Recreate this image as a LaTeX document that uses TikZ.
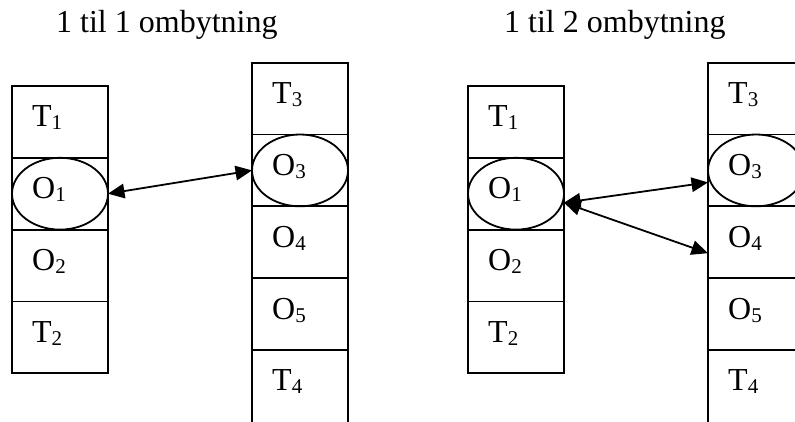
\documentclass[tikz,border=0pt]{standalone}
\usepackage{fontspec}
\setmainfont{Liberation Serif}
\usetikzlibrary{arrows.meta,shapes.geometric}
\newcommand{\lsub}[1]{\raisebox{-3pt}{\fontsize{21}{21}\selectfont #1}}
\begin{document}
\begin{tikzpicture}[x=1pt,y=-1pt,
  cell/.style={draw, line width=1.8pt, minimum width=96pt, minimum height=71.8pt, inner sep=0pt, outer sep=0pt},
  oval/.style={draw, ellipse, line width=1.8pt, minimum width=96pt, minimum height=71.8pt, inner sep=0pt, outer sep=0pt},
  lbl/.style={anchor=base west, inner sep=0pt, font=\fontsize{32}{36}\selectfont},
  conn/.style={{Triangle[length=16.5pt,width=14.5pt]}-{Triangle[length=16.5pt,width=14.5pt]}, line width=1.8pt}]
\useasboundingbox (0,0) rectangle (795,421);
\clip (0,0) rectangle (795,421);
% titles
\node[lbl] (title1) at (56,32) {1 til 1 ombytning};
\node[lbl] (title2) at (504,32) {1 til 2 ombytning};
% ---- left pair ----
\node[cell] (a1) at (60,121.9) {};
\node[cell] (a2) at (60,193.7) {};
\node[cell] (a3) at (60,265.5) {};
\node[cell] (a4) at (60,337.3) {};
\node[oval] (a2e) at (a2.center) {};
\node[cell] (b1) at (300,98.6) {};
\node[cell] (b2) at (300,170.4) {};
\node[cell] (b3) at (300,242.2) {};
\node[cell] (b4) at (300,314.0) {};
\node[cell, minimum height=100pt, anchor=north] (b5) at (b4.south) {};
\node[oval] (b2e) at (b2.center) {};
\node[lbl] (la1) at ([xshift=20pt,yshift=-5pt]a1.west) {T\lsub{1}};
\node[lbl] (la2) at ([xshift=20pt,yshift=-5pt]a2.west) {O\lsub{1}};
\node[lbl] (la3) at ([xshift=20pt,yshift=-5pt]a3.west) {O\lsub{2}};
\node[lbl] (la4) at ([xshift=20pt,yshift=-5pt]a4.west) {T\lsub{2}};
\node[lbl] (lb1) at ([xshift=20pt,yshift=-5pt]b1.west) {T\lsub{3}};
\node[lbl] (lb2) at ([xshift=20pt,yshift=-5pt]b2.west) {O\lsub{3}};
\node[lbl] (lb3) at ([xshift=20pt,yshift=-5pt]b3.west) {O\lsub{4}};
\node[lbl] (lb4) at ([xshift=20pt,yshift=-5pt]b4.west) {O\lsub{5}};
\node[lbl] (lb5) at ([xshift=20pt,yshift=-41pt]b5.north west) {T\lsub{4}};
\draw[conn] (a2e.east) -- (b2e.west);
% ---- right pair ----
\node[cell] (c1) at (516,121.9) {};
\node[cell] (c2) at (516,193.7) {};
\node[cell] (c3) at (516,265.5) {};
\node[cell] (c4) at (516,337.3) {};
\node[oval] (c2e) at (c2.center) {};
\node[cell] (d1) at (756,98.6) {};
\node[cell] (d2) at (756,170.4) {};
\node[cell] (d3) at (756,242.2) {};
\node[cell] (d4) at (756,314.0) {};
\node[cell, minimum height=100pt, anchor=north] (d5) at (d4.south) {};
\node[oval] (d2e) at (d2.center) {};
\node[lbl] (lc1) at ([xshift=20pt,yshift=-5pt]c1.west) {T\lsub{1}};
\node[lbl] (lc2) at ([xshift=20pt,yshift=-5pt]c2.west) {O\lsub{1}};
\node[lbl] (lc3) at ([xshift=20pt,yshift=-5pt]c3.west) {O\lsub{2}};
\node[lbl] (lc4) at ([xshift=20pt,yshift=-5pt]c4.west) {T\lsub{2}};
\node[lbl] (ld1) at ([xshift=20pt,yshift=-5pt]d1.west) {T\lsub{3}};
\node[lbl] (ld2) at ([xshift=20pt,yshift=-5pt]d2.west) {O\lsub{3}};
\node[lbl] (ld3) at ([xshift=20pt,yshift=-5pt]d3.west) {O\lsub{4}};
\node[lbl] (ld4) at ([xshift=20pt,yshift=-5pt]d4.west) {O\lsub{5}};
\node[lbl] (ld5) at ([xshift=20pt,yshift=-41pt]d5.north west) {T\lsub{4}};
\draw[conn] ([yshift=-9pt]c2e.east) -- ([yshift=-12pt]d2e.west);
\draw[conn] ([yshift=-9pt]c2e.east) -- ([yshift=-11pt]d3.west);
\end{tikzpicture}
\end{document}
